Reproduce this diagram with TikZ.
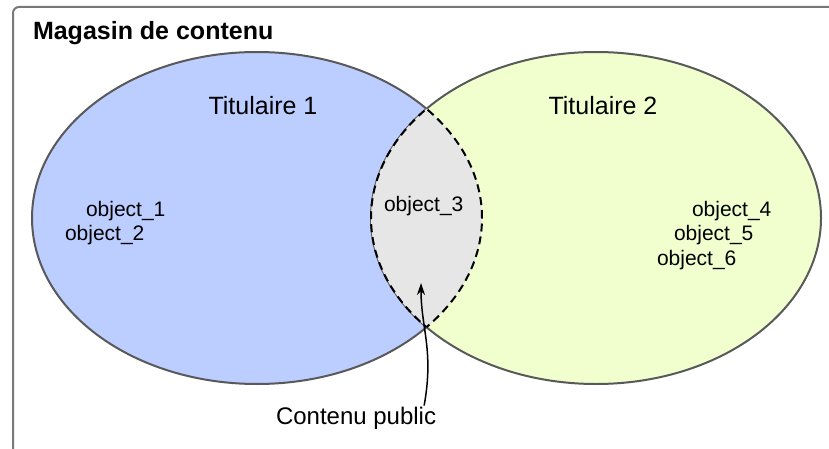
\documentclass[tikz,border=0pt]{standalone}
\usepackage{fontspec}
\setmainfont{Liberation Sans}
\usetikzlibrary{calc}
\usetikzlibrary{positioning}
\usetikzlibrary{arrows.meta}

\definecolor{titblue}{RGB}{188,205,255}
\definecolor{tityellow}{RGB}{241,255,206}
\definecolor{publicgray}{RGB}{230,230,230}
\definecolor{framegray}{RGB}{120,120,120}

\tikzset{
    vennsize/.style = {x radius = 225pt, y radius = 166pt},
    holder/.style = {draw = black!65, line width = 2pt},
    objtext/.style = {anchor = base west, inner sep = 0pt, font = \fontsize{21}{25}\selectfont},
    bigtext/.style = {inner sep = 0pt, font = \fontsize{25}{29}\selectfont}
}

\begin{document}
\begin{tikzpicture}[x = 1pt, y = -1pt, line width = 2pt]

    \useasboundingbox (0,0) rectangle (829,449);

    % frame
    \draw[framegray, rounded corners = 6pt] (13,449) -- (13,7) -- (829,7);
    \node (mag) at (32,40) [anchor = base west, inner sep = 0pt, font = \fontsize{25}{29}\selectfont\bfseries] {Magasin de contenu};

    \coordinate (T1) at (257,218);
    \coordinate (T2) at (596,218);

    % the two holders
    \draw[holder, fill = titblue] (T1) ellipse [vennsize];
    \draw[holder, fill = tityellow] (T2) ellipse [vennsize];

    % public part
    \begin{scope}
        \clip (T1) ellipse [vennsize];
        \fill[publicgray] (T2) ellipse [vennsize];
        \draw[black, dash pattern = on 8pt off 5pt] (T2) ellipse [vennsize];
    \end{scope}
    \begin{scope}
        \clip (T2) ellipse [vennsize];
        \draw[black, dash pattern = on 8pt off 5pt] (T1) ellipse [vennsize];
    \end{scope}

    \node (tit1) at (263,115) [anchor = base, bigtext] {Titulaire 1};
    \node (tit2) at (603,115) [anchor = base, bigtext] {Titulaire 2};

    \node (obj1) at (85,216) [objtext] {object\_1};
    \node (obj2) at (64,240) [objtext] {object\_2};
    \node (obj3) at (383,211) [objtext] {object\_3};
    \node (obj4) at (691,216) [objtext] {object\_4};
    \node (obj5) at (673,240) [objtext] {object\_5};
    \node (obj6) at (656,265) [objtext] {object\_6};

    \node (pub) at (275,424) [anchor = base west, bigtext, font = \fontsize{24}{28}\selectfont] {Contenu public};
    \coordinate (lens) at (421,283);

    \draw[-{Stealth[length = 12pt, width = 8pt]}, line width = 1.5pt]
        ($(pub.north east) + (-13,0)$) .. controls +(10,-55) and +(0,45) .. (lens);

\end{tikzpicture}
\end{document}
